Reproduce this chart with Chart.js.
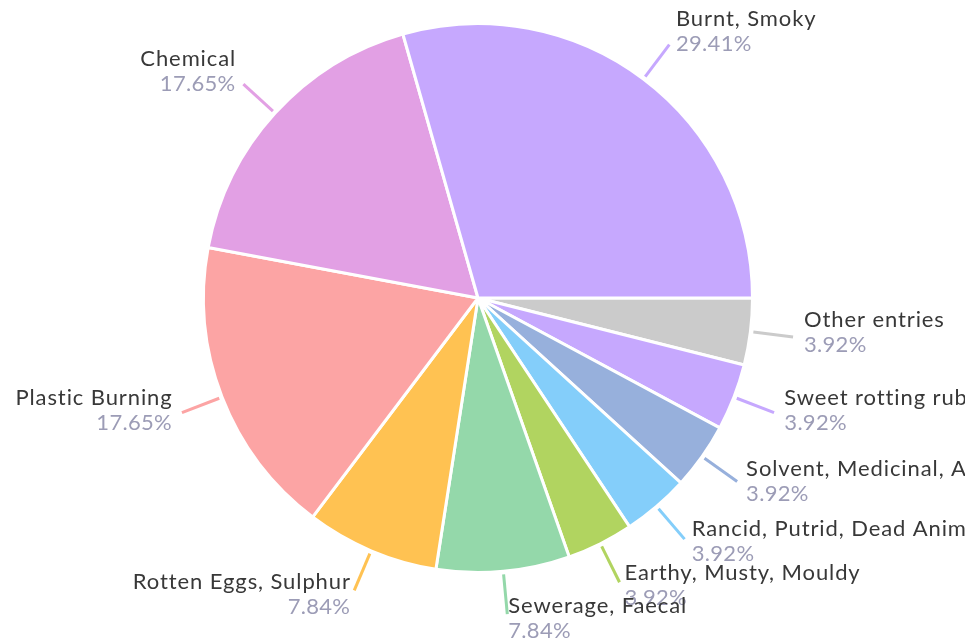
<!DOCTYPE html>
<html>
<head>
<meta charset="utf-8">
<script src="https://cdn.jsdelivr.net/npm/chart.js@4/dist/chart.umd.min.js"></script>
<style>
  html, body { margin: 0; padding: 0; background: #fff; }
  canvas { display: block; }
</style>
</head>
<body>
<canvas id="pie" width="965" height="644"></canvas>
<script>
// Slices, listed counter-clockwise from 3 o'clock
const categories = [
    'Burnt, Smoky',
    'Chemical',
    'Plastic Burning',
    'Rotten Eggs, Sulphur',
    'Sewerage, Faecal',
    'Earthy, Musty, Mouldy',
    'Rancid, Putrid, Dead Animal',
    'Solvent, Medicinal, Alcohol',
    'Sweet rotting rubbish',
    'Other entries'
];
const counts = [15, 9, 9, 4, 4, 2, 2, 2, 2, 2];
const colors = [
    '#c6a8fe', '#e2a0e4', '#fca4a4', '#ffc252', '#94d8aa',
    '#b1d460', '#84cefa', '#97b0dc', '#c6a8fe', '#cbcbcb'
];

const total = counts.reduce((a, b) => a + b, 0);

// Chart.js draws clockwise, so feed the slices reversed
const labels = categories.slice().reverse();
const values = counts.slice().reverse();
const fills = colors.slice().reverse();

// Ticks and two-line labels outside each slice
const outsideLabels = {
    id: 'outsideLabels',
    afterDraw(chart) {
        const ctx = chart.ctx;
        const meta = chart.getDatasetMeta(0);
        meta.data.forEach((arc, i) => {
            const p = arc.getProps(['x', 'y', 'startAngle', 'endAngle', 'outerRadius'], true);
            const mid = (p.startAngle + p.endAngle) / 2;
            const cos = Math.cos(mid), sin = Math.sin(mid);
            const r0 = p.outerRadius + 3, r1 = p.outerRadius + 43;
            const ex = p.x + cos * r1, ey = p.y + sin * r1;

            ctx.save();
            ctx.strokeStyle = fills[i];
            ctx.lineWidth = 3;
            ctx.beginPath();
            ctx.moveTo(p.x + cos * r0, p.y + sin * r0);
            ctx.lineTo(ex, ey);
            ctx.stroke();

            const right = cos >= 0;
            const block = ey - 7 + 10 * sin;
            ctx.textAlign = right ? 'left' : 'right';
            ctx.textBaseline = 'alphabetic';
            ctx.font = '22px Lato, "Noto Sans", sans-serif';
            ctx.fillStyle = '#383838';
            ctx.letterSpacing = '0.9px';
            const tx = ex + 11 * cos + (right ? 0 : 0.9);
            ctx.fillText(labels[i], tx, block - 4);
            ctx.fillStyle = '#9c9cb6';
            ctx.letterSpacing = '0.3px';
            const pct = (values[i] / total * 100).toFixed(2) + '%';
            ctx.fillText(pct, ex + 11 * cos + (right ? 0 : 0.3), block + 21);
            ctx.restore();
        });
    }
};

new Chart(document.getElementById('pie'), {
    type: 'pie',
    data: {
        labels: labels,
        datasets: [{
            data: values,
            backgroundColor: fills,
            borderColor: '#ffffff',
            borderWidth: 3,
            hoverOffset: 0
        }]
    },
    options: {
        responsive: false,
        animation: false,
        rotation: 90,
        layout: { padding: { top: 22, bottom: 70, left: 150, right: 159 } },
        plugins: {
            legend: { display: false },
            tooltip: { enabled: false }
        }
    },
    plugins: [outsideLabels]
});
</script>
</body>
</html>
